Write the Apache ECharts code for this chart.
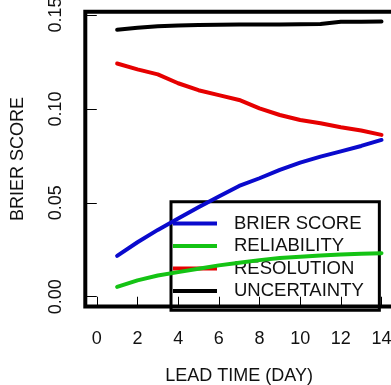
<!DOCTYPE html>
<html>
<head>
<meta charset="utf-8">
<script src="https://cdn.jsdelivr.net/npm/echarts@6/dist/echarts.min.js"></script>
<style>
  html, body { margin: 0; padding: 0; background: #fff; }
  #chart { width: 391px; height: 385px; }
</style>
</head>
<body>
<div id="chart"></div>
<script>
// Brier score decomposition by forecast lead time
const leadDays = [1, 2, 3, 4, 5, 6, 7, 8, 9, 10, 11, 12, 13, 14];
const brierScore = [0.0218, 0.0290, 0.0356, 0.0416, 0.0476, 0.0534, 0.0590, 0.0631, 0.0676, 0.0714, 0.0746, 0.0774, 0.0803, 0.0835];
const reliability = [0.0052, 0.0087, 0.0113, 0.0131, 0.0149, 0.0167, 0.0181, 0.0195, 0.0206, 0.0213, 0.0220, 0.0225, 0.0229, 0.0232];
const resolution = [0.1242, 0.1211, 0.1184, 0.1137, 0.1100, 0.1074, 0.1048, 0.1003, 0.0968, 0.0941, 0.0924, 0.0903, 0.0885, 0.0862];
const uncertainty = [0.1422, 0.1432, 0.1440, 0.1445, 0.1447, 0.1448, 0.1450, 0.1450, 0.1450, 0.1451, 0.1453, 0.1464, 0.1465, 0.1466];

const seriesNames = ['BRIER SCORE', 'RELIABILITY', 'RESOLUTION', 'UNCERTAINTY'];
const xTicks = [0, 2, 4, 6, 8, 10, 12, 14];
const yTicks = [0, 0.05, 0.10, 0.15];

const lineColors = ['#0a0acd', '#14c314', '#e60000', '#000000'];
const FONT = '"Liberation Sans", Arial, Helvetica, sans-serif';

const valuesBySeries = [brierScore, reliability, resolution, uncertainty];

const chart = echarts.init(document.getElementById('chart'), null, { renderer: 'canvas' });

chart.setOption({
  animation: false,
  backgroundColor: '#ffffff',
  grid: {
    left: 85.3, right: -2, top: 11.7, bottom: 78.5,
    outerBoundsMode: 'none',
    containLabel: false,
    show: true, borderColor: '#000', borderWidth: 4, backgroundColor: 'transparent'
  },
  xAxis: {
    type: 'value',
    min: -0.565, max: 14.565,
    name: 'LEAD TIME (DAY)',
    nameLocation: 'middle',
    nameGap: 61,
    nameTextStyle: { fontFamily: FONT, fontSize: 18, color: '#111' },
    axisLine: { show: false },
    splitLine: { show: false },
    axisTick: { show: true, length: 11, customValues: xTicks, lineStyle: { color: '#000', width: 1 } },
    axisLabel: {
      customValues: xTicks, margin: 24,
      fontFamily: FONT, fontSize: 18, color: '#111'
    }
  },
  yAxis: {
    type: 'value',
    min: -0.0052, max: 0.1518,
    name: 'BRIER SCORE',
    nameLocation: 'middle',
    nameGap: 58,
    nameTextStyle: { fontFamily: FONT, fontSize: 18, color: '#111' },
    axisLine: { show: false },
    splitLine: { show: false },
    axisTick: { show: true, length: 10, customValues: yTicks, lineStyle: { color: '#000', width: 1 } },
    axisLabel: {
      customValues: yTicks, margin: 20, rotate: 90,
      fontFamily: FONT, fontSize: 18, color: '#111',
      formatter: v => v.toFixed(2)
    }
  },
  legend: {
    orient: 'vertical',
    left: 171, top: 201.7,
    padding: [12.3, 15.5, 9.7, 2],
    borderColor: '#000', borderWidth: 3,
    backgroundColor: 'transparent',
    itemWidth: 44, itemHeight: 4, itemGap: 3.5,
    icon: 'rect',
    data: seriesNames,
    selectedMode: false,
    textStyle: {
      fontFamily: FONT, fontSize: 18.5, color: '#111', lineHeight: 18,
      height: 18,
      padding: [0, 0, 0, 12]
    }
  },
  series: seriesNames.map((name, i) => ({
    name,
    type: 'line',
    z: 10,
    symbol: 'none',
    smooth: false,
    color: lineColors[i],
    lineStyle: { color: lineColors[i], width: 4, cap: 'round', join: 'round' },
    data: leadDays.map((d, k) => [d, valuesBySeries[i][k]])
  }))
});
</script>
</body>
</html>
